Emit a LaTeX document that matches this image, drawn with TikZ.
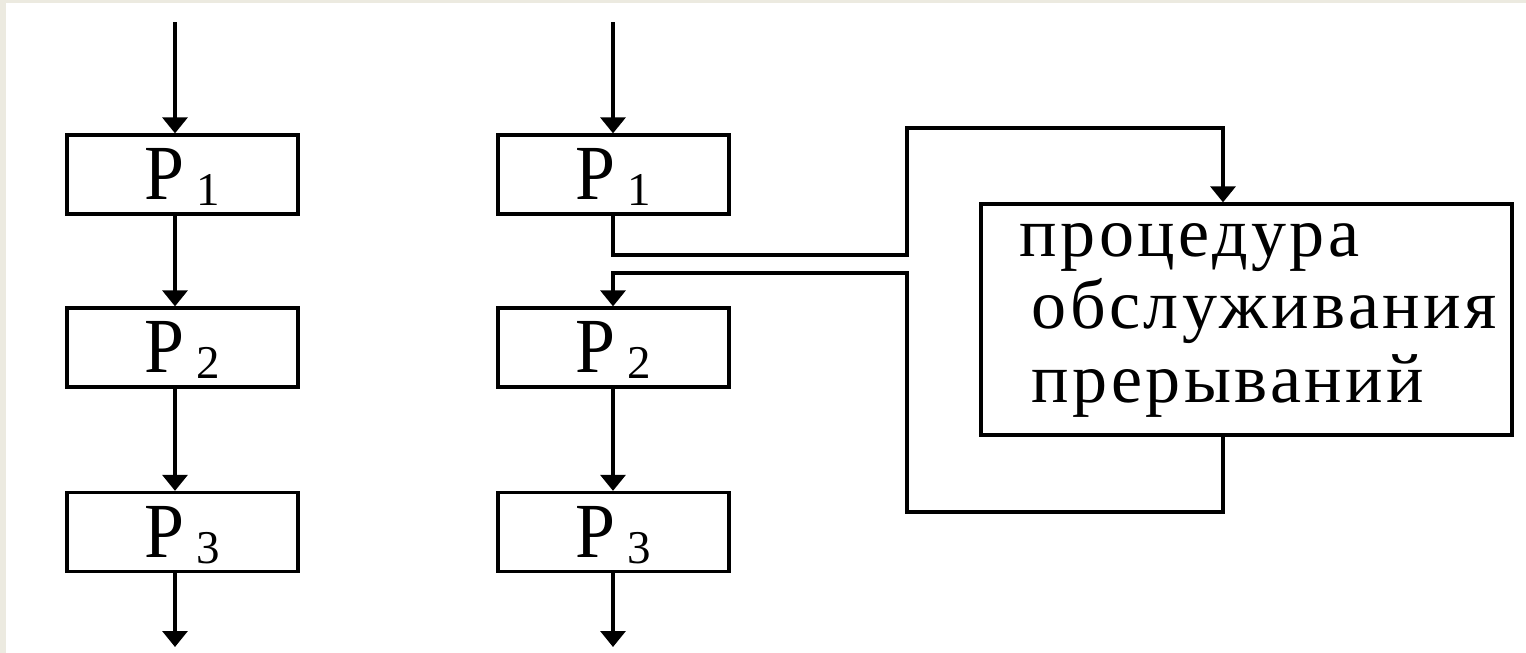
\documentclass[tikz,border=0pt]{standalone}
\usepackage{fontspec}
\setmainfont{Liberation Serif}
\newfontfamily\cyrfont[LetterSpace=5]{Liberation Serif}
\newfontfamily\pfont[FakeStretch=0.92]{Liberation Serif}
\usetikzlibrary{arrows.meta}
\definecolor{bgbeige}{RGB}{236,234,224}
\newcommand\labsub[1]{{\rmfamily\fontsize{47}{50}\selectfont\ \raisebox{-6pt}{#1}}}
\begin{document}
\begin{tikzpicture}[x=1pt,y=-1pt,
  line width=3.3pt,
  arr/.style={-{Triangle[width=25pt,length=16pt]}},
  procbox/.style={draw, minimum width=231pt, minimum height=79pt, inner sep=0pt,
    text height=50pt, text depth=0pt, font=\pfont\fontsize{78}{80}\selectfont},
  bigbox/.style={draw, minimum width=531pt, minimum height=231pt, inner sep=0pt},
  cyrtext/.style={anchor=base west, inner sep=0pt, font=\cyrfont\fontsize{70}{74}\selectfont}]
\useasboundingbox (0,0) rectangle (1526,653);
\fill[bgbeige] (0,0) rectangle (1526,653);
\fill[white] (6,3) rectangle (1526,653);

% left column
\node[procbox] (L1) at (182.5,174.5) {P\labsub{1}};
\node[procbox] (L2) at (182.5,347.5) {P\labsub{2}};
\node[procbox] (L3) at (182.5,532) {P\labsub{3}};
\coordinate (lin) at (175,22);
\coordinate (lout) at (175,647);
\draw[arr] (lin) -- (lin |- L1.north);
\draw[arr] (L1.south -| lin) -- (L2.north -| lin);
\draw[arr] (L2.south -| lin) -- (L3.north -| lin);
\draw[arr] (L3.south -| lin) -- (lout);

% right column
\node[procbox] (R1) at (613.5,174.5) {P\labsub{1}};
\node[procbox] (R2) at (613.5,347.5) {P\labsub{2}};
\node[procbox] (R3) at (613.5,532) {P\labsub{3}};
\coordinate (rin) at (613,22);
\coordinate (rout) at (613,647);
\draw[arr] (rin) -- (rin |- R1.north);
\draw[arr] (R2.south -| rin) -- (R3.north -| rin);
\draw[arr] (R3.south -| rin) -- (rout);

% interrupt handler
\node[bigbox] (B) at (1246.5,319.5) {};
\node[cyrtext] (t1) at (1018,256) {процедура};
\node[cyrtext] (t2) at (1030,328) {обслуживания};
\node[cyrtext] (t3) at (1030,402) {прерываний};

\coordinate (ja) at (907,255);
\coordinate (jb) at (1223,128);
\coordinate (jc) at (907,512);
\coordinate (jd) at (613,273);
\draw[arr] (R1.south -| rin) |- (ja) |- (jb) -- (jb |- B.north);
\draw[arr] (B.south -| jb) |- (jc) |- (jd) -- (jd |- R2.north);
\end{tikzpicture}
\end{document}
